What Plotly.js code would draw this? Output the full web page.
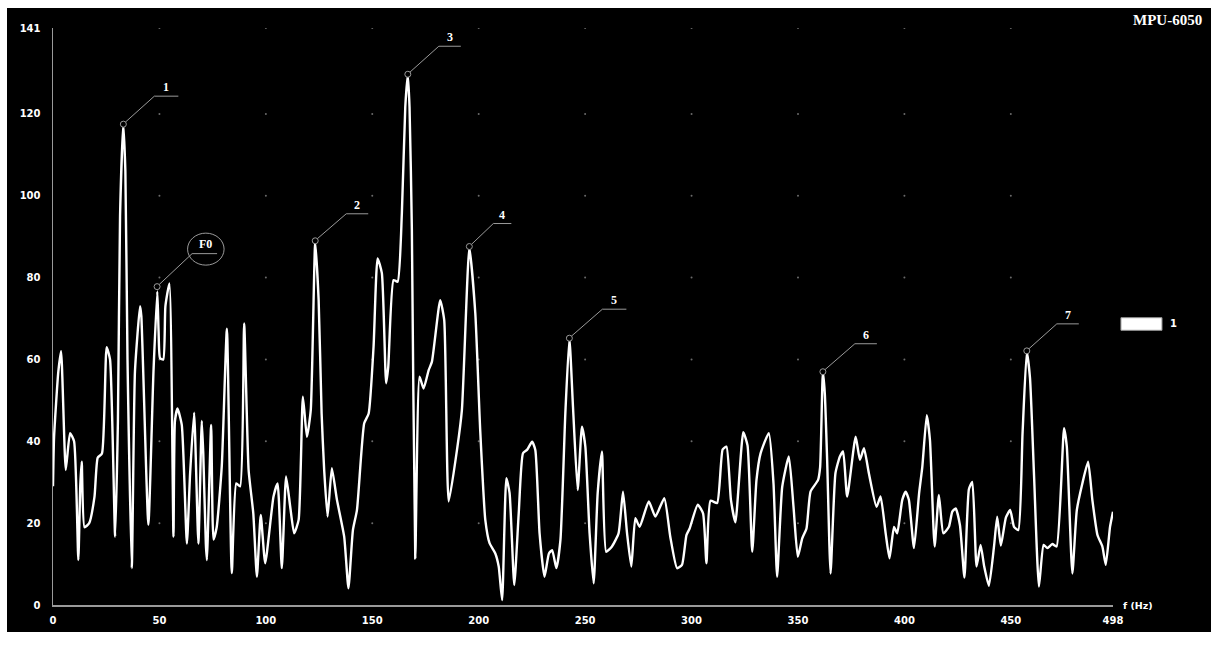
<!DOCTYPE html>
<html><head><meta charset="utf-8">
<script src="https://cdn.plot.ly/plotly-3.0.1.min.js"></script>
<style>
html,body{margin:0;padding:0;background:#fff;width:1218px;height:645px;overflow:hidden}
#chart{position:absolute;left:7px;top:8px;width:1204px;height:624px}
</style>
</head><body><div id="chart"></div>
<script>
// ---- data ----
const freq = [0,0.5,2.5,3.8,6.0,8.0,9.9,11.9,12.8,13.5,14.8,17,19.5,21,23,25.2,26.8,29.2,30.5,31.5,33.0,34.0,35.0,37.0,38.5,40.9,41.5,44.8,47.2,49.0,49.6,50.3,51.8,52.8,54.7,56.6,57.3,58.5,60.5,62.9,64.4,66.3,68.3,69.9,70.6,71.8,72.3,74.3,75.4,76.9,79.3,81.7,84.0,86.1,87.9,89.8,91.9,94.1,95.8,97.6,99.7,103.6,105.5,107.5,109.5,111.4,113.3,115.4,117.4,119.3,121.1,123.2,124.8,126.2,127.4,129.0,131.0,133.4,136.8,138.8,140.9,142.8,146.2,148.3,150.6,152.5,154.5,156.5,157.5,160.0,161.9,163.9,165.5,166.7,167.5,168.6,170.2,172.2,174.1,176.5,178.0,181.9,183.8,185.9,189.8,192.1,195.6,198.4,200.7,203.1,205.1,207.8,209.4,211.0,213.0,214.5,216.7,218.8,220.8,222.7,225.1,226.6,228.6,230.9,233.0,234.5,236.5,238.4,240.7,242.6,244.3,246.5,248.5,250.1,252.1,254.0,255.9,257.9,259.9,262.6,265.7,267.8,269.7,271.7,273.6,275.6,279.9,283.0,287.2,290.0,293.2,295.5,297.6,299.1,302.9,305.4,307.0,308.9,312.0,314.6,316.4,318.5,320.6,324.3,326.3,328.5,330.5,332.4,336.3,338.5,340.2,342.6,345.7,347.9,349.9,352.0,354.0,355.9,359.4,360.4,361.7,362.6,363.7,365.3,367.6,369.7,371.2,373.1,377.1,379.1,381.0,383.3,386.9,388.8,391.2,393.0,395.1,396.6,399.0,400.6,402.1,404.5,406.9,408.4,410.5,412.0,414.2,416.2,418.3,420.9,422.5,424.1,426.1,428.2,430.3,431.9,433.9,435.8,437.5,439.7,442.1,443.6,445.3,447.7,449.7,451.5,453.5,455.5,457.5,459.0,460.9,463.2,465.4,467.2,469.5,471.5,475.0,476.3,478.9,481.0,483.6,486.3,488.3,490.7,493.0,494.6,496.6,498];
const amp = [29,41,57,62,33,42,40,11,29,35,19,20,26.5,36,37,63,60,16.7,45,95,117.5,106,60,9,57,73,70.6,19.6,57,76.6,67,60.3,60,73,78.6,16.7,45,48,44,15,32,47,15,45,37,15,11,44,16,19,34,67.5,7.8,29.7,29,68.8,33,22.4,6.9,22,10.2,26.5,29.7,9,31.4,24.2,17.5,20.8,50.9,41.1,47.6,88.6,74.5,46.8,33,21.6,33.4,25.7,16.7,4.1,18.3,23.2,44.4,46.8,63.1,84.7,81.1,54.2,58.2,79.4,79.0,95.7,121.7,129.5,121.7,91.7,11.4,55.8,52.9,57.4,59.4,74.5,69.6,25.3,37.9,47.6,87.4,71.3,42.8,20.8,15.1,12.6,9.4,1.2,31.0,27.4,4.9,22.4,37.1,37.9,39.9,37.9,17.5,6.9,12.6,13.4,9,15.9,46.8,65.2,48.4,28.1,43.6,38.7,17.5,5.3,27.4,37.5,13,14.3,17.5,27.7,17.5,9.4,21.2,19.1,25.3,21.6,26.1,16.7,9,9.8,17.1,18.7,24.5,22.4,10.2,25.5,24.9,38,38.7,25.7,20.2,42.2,39,13.0,30.5,37.0,42,29.7,6.9,28.9,36.3,24.0,11.8,16.3,18.7,27.7,30.5,33.7,57.0,51.7,35.5,7.7,32.2,36.3,37.5,26.5,41.1,35.5,38.3,32.2,24.0,26.5,17.5,11.4,19.1,17.5,25.7,27.7,25.7,13.9,27.3,33.7,46.4,40.3,14.3,26.9,17.5,19.1,22.8,23.6,19.5,6.7,28.3,30.1,9.4,14.7,9.4,4.7,14.3,21.6,14.5,21.4,23.2,19.1,18.3,41.9,61.9,55.5,31.7,4.5,14.7,13.9,14.9,14.3,43.2,38.7,7.7,23.2,29.7,35.0,25.7,17.1,14.3,9.8,19.1,22.8];

const xTickVals = [0,50,100,150,200,250,300,350,400,450,498];
const yTickVals = [0,20,40,60,80,100,120,141];
const xGridVals = [50,100,150,200,250,300,350,400,450];
const yGridVals = [20,40,60,80,100,120,141];

const peakLabels = ['1','2','3','4','5','6','7'];
const peakX = [33.05,123.2,166.7,195.6,242.6,361.7,457.5];
const peakY = [117.5,89.0,129.7,87.6,65.2,57.0,62.1];

const f0Label = 'F0';
const f0X = 48.9;
const f0Y = 77.8;

const seriesName = '1';
const chartTitle = 'MPU-6050';
const xTitle = 'f (Hz)';

// ---- styling / layout ----
const leader = [[31,28,24],[31,27,22],[31,28,22],[24,23,18],[33,29,24],[32,28,22],[30,27,22]];
const gray = '#9a9a9a';
const serif = 'Liberation Serif, Times New Roman, serif';
const sans = 'DejaVu Sans, Verdana, sans-serif';

const gx = [], gy = [];
xGridVals.forEach(xv => yGridVals.forEach(yv => { gx.push(xv); gy.push(yv); }));

const traces = [
  {x: gx, y: gy, type: 'scatter', mode: 'markers', hoverinfo: 'skip', showlegend: false,
   marker: {size: 2, color: '#6a6a6a'}},
  {x: freq, y: amp, type: 'scatter', mode: 'lines', name: seriesName, showlegend: false,
   line: {color: '#ffffff', width: 2.4, shape: 'spline', smoothing: 0.5}}
];

const shapes = [];
const annotations = [];
function pix(type, ax, ay, x0, y0, x1, y1, extra) {
  return Object.assign({type: type, xref: 'x', yref: 'y', xsizemode: 'pixel', ysizemode: 'pixel',
    xanchor: ax, yanchor: ay, x0: x0, y0: y0, x1: x1, y1: y1, layer: 'above',
    line: {color: gray, width: 1}}, extra || {});
}
peakLabels.forEach((lab, i) => {
  const [dx, dy, len] = leader[i];
  shapes.push(pix('line', peakX[i], peakY[i], 2, 2, dx, dy));
  shapes.push(pix('line', peakX[i], peakY[i], dx, dy, dx + len, dy));
  shapes.push(pix('circle', peakX[i], peakY[i], -3, -3, 3, 3, {fillcolor: '#000'}));
  annotations.push({x: peakX[i], y: peakY[i], xref: 'x', yref: 'y', text: lab, showarrow: false,
    xshift: dx + len / 2, yshift: dy + 9, font: {family: serif, size: 12, color: '#fff', weight: 'bold'}});
});
// F0 marker
shapes.push(pix('line', f0X, f0Y, 2, 2, 35, 33));
shapes.push(pix('line', f0X, f0Y, 35, 33, 60, 33));
shapes.push(pix('circle', f0X, f0Y, -3, -3, 3, 3, {fillcolor: '#000'}));
shapes.push(pix('circle', f0X, f0Y, 30.5, 21.5, 67, 53.5));
annotations.push({x: f0X, y: f0Y, xref: 'x', yref: 'y', text: f0Label, showarrow: false,
  xshift: 48, yshift: 43, font: {family: serif, size: 12, color: '#fff', weight: 'bold'}});

// legend swatch
shapes.push({type: 'rect', xref: 'paper', yref: 'paper', x0: 1.0075, x1: 1.0462, y0: 0.4761, y1: 0.4979,
  fillcolor: '#fff', line: {color: gray, width: 1}});
annotations.push({xref: 'paper', yref: 'paper', x: 1.0515, y: 0.4882, xanchor: 'left', yanchor: 'middle',
  text: seriesName, showarrow: false, font: {family: sans, size: 10, color: '#fff', weight: 'bold'}});
// title
annotations.push({xref: 'paper', yref: 'paper', x: 1.0858, y: 1.0139, xanchor: 'right', yanchor: 'middle',
  text: chartTitle, showarrow: false, font: {family: serif, size: 15, color: '#fff', weight: 'bold'}});
// x axis title
annotations.push({xref: 'paper', yref: 'paper', x: 1, y: 0, xanchor: 'left', yanchor: 'middle', xshift: 8,
  text: xTitle, showarrow: false, font: {family: sans, size: 9.5, color: '#fff', weight: 'bold'}});

const layout = {
  width: 1204, height: 624,
  margin: {l: 46, r: 98, t: 20, b: 27},
  paper_bgcolor: '#000', plot_bgcolor: '#000',
  showlegend: false,
  xaxis: {range: [0, 498], tickmode: 'array', tickvals: xTickVals, ticktext: xTickVals.map(String),
    showgrid: false, zeroline: false, showline: true, linecolor: gray, linewidth: 1.5,
    ticks: '', ticklabelstandoff: 5, tickfont: {family: sans, size: 10, color: '#fff', weight: 'bold'}},
  yaxis: {range: [0, 141], tickmode: 'array', tickvals: yTickVals, ticktext: yTickVals.map(String),
    showgrid: false, zeroline: false, showline: true, linecolor: gray, linewidth: 1.5,
    ticks: '', ticklabelstandoff: 9, tickfont: {family: sans, size: 10, color: '#fff', weight: 'bold'}},
  shapes: shapes,
  annotations: annotations
};

Plotly.newPlot('chart', traces, layout, {displayModeBar: false, staticPlot: true});
</script></body></html>
